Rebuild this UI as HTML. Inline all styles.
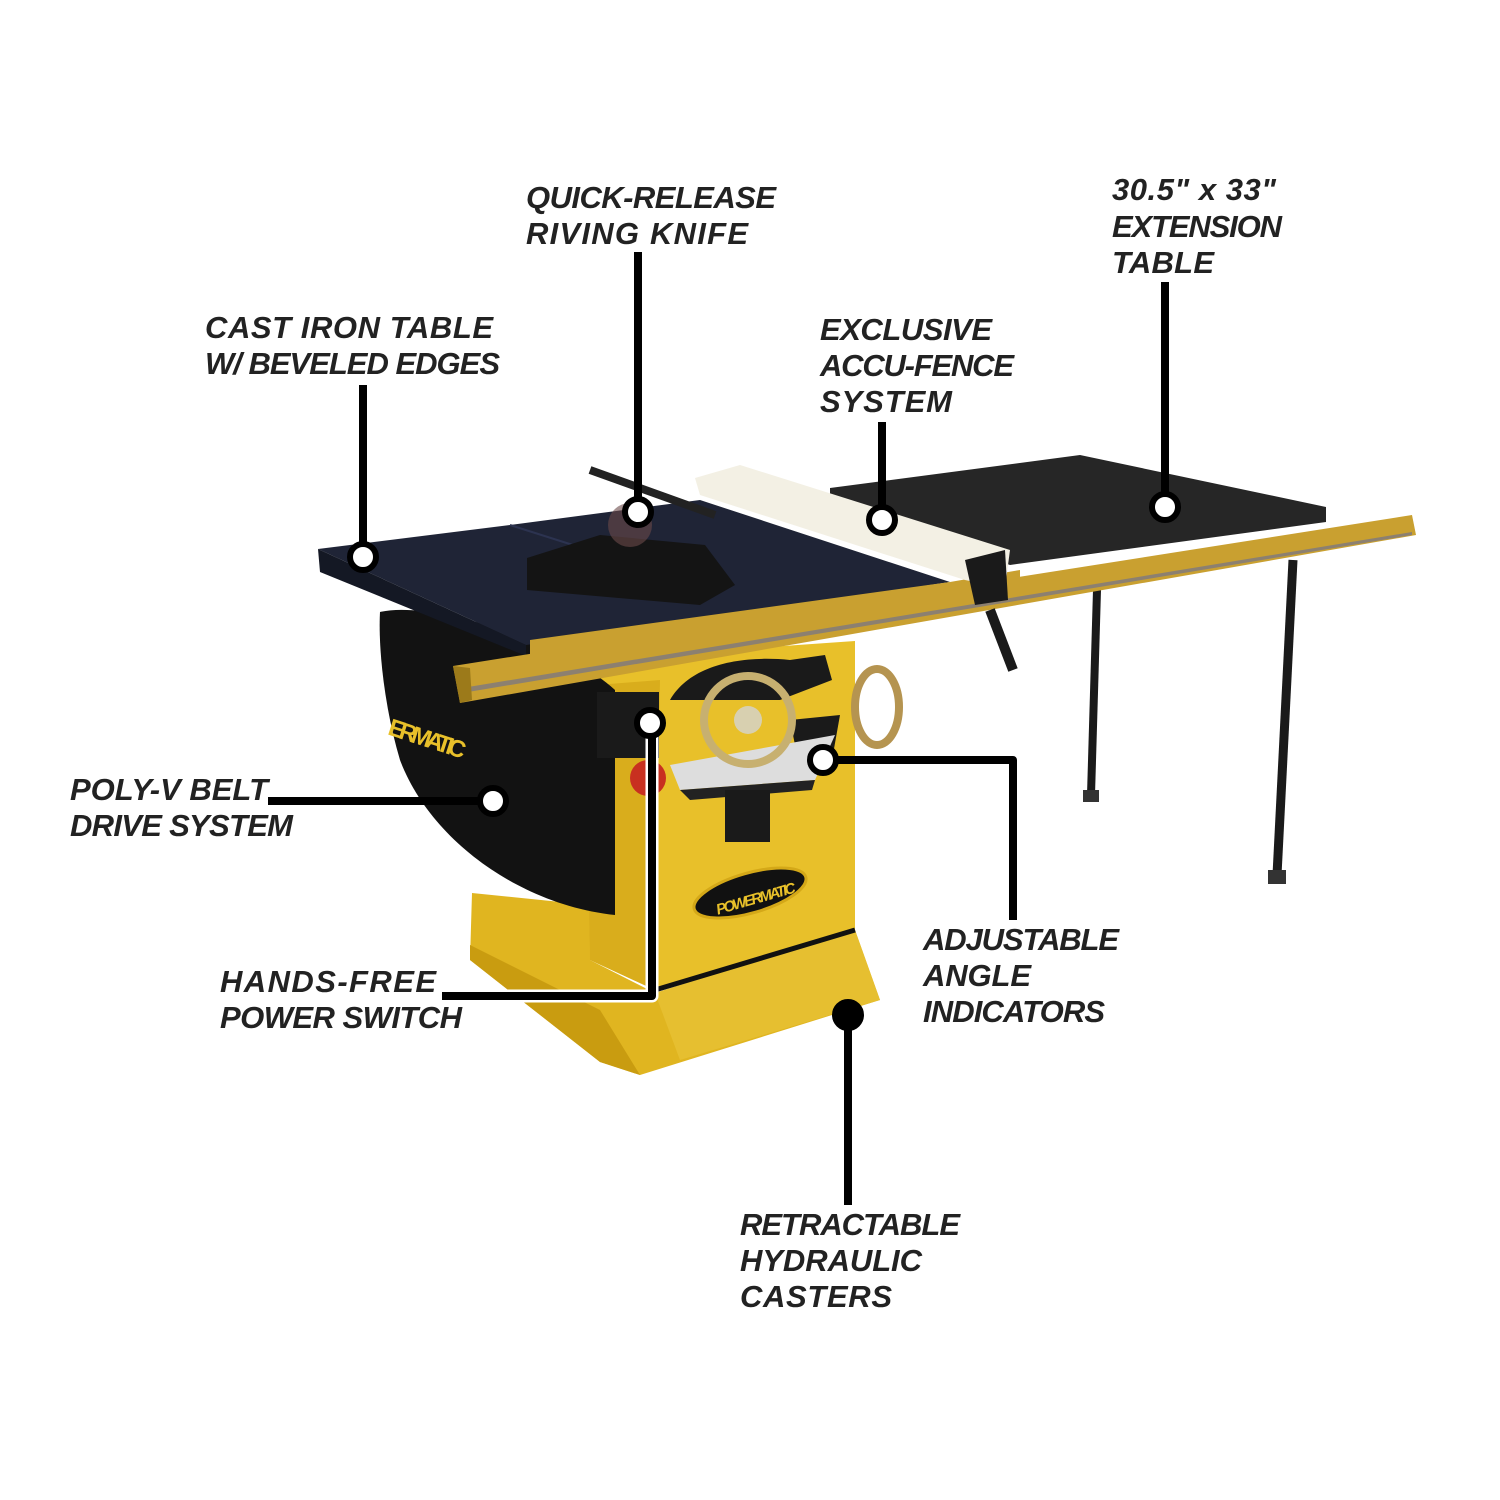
<!DOCTYPE html>
<html><head><meta charset="utf-8"><style>
html,body{margin:0;padding:0;background:#fff}
svg{display:block}
text{font-family:"Liberation Sans",sans-serif;font-weight:bold;font-style:italic;font-size:31px;fill:#222}
</style></head><body>
<svg width="1500" height="1500" viewBox="0 0 1500 1500">
<line x1="1097" y1="590" x2="1091" y2="795" stroke="#1a1a1a" stroke-width="8"/>
<rect x="1083" y="790" width="16" height="12" fill="#333"/>
<line x1="1293" y1="560" x2="1277" y2="875" stroke="#1a1a1a" stroke-width="9"/>
<rect x="1268" y="870" width="18" height="14" fill="#333"/>
<polygon points="830,488 1080,455 1326,507 1326,522 1010,565 830,500" fill="#262626"/>
<polygon points="472,893 590,905 590,960 655,993 855,930 880,1000 640,1075 600,1062 470,960" fill="#e0b520"/>
<polygon points="470,945 600,1010 640,1075 600,1062 470,960" fill="#c99c10"/>
<polygon points="655,993 855,930 880,1000 680,1060" fill="#e6bf30"/>
<polygon points="584,660 855,641 855,930 655,990 590,960" fill="#e8c02a"/>
<polygon points="584,686 660,680 655,990 590,960" fill="#d9ad1c"/>
<line x1="655" y1="990" x2="855" y2="930" stroke="#111" stroke-width="5"/>
<path d="M380,612 C430,600 560,640 615,690 L615,915 C520,905 430,840 400,760 C385,710 378,650 380,612 Z" fill="#121212"/>
<text x="385" y="745" transform="rotate(18 420 745)" style="font-size:24px;fill:#e8c02a;font-style:normal" textLength="80">ERMATIC</text>
<path d="M670,700 C690,665 740,655 790,660 L825,655 L832,680 L780,700 Z" fill="#1a1a1a"/>
<path d="M790,720 L840,715 L832,760 L800,770 Z" fill="#1a1a1a"/>
<rect x="597" y="692" width="62" height="66" fill="#1a1a1a"/>
<circle cx="648" cy="778" r="18" fill="#c83020"/>
<path d="M670,765 L835,735 L815,780 L680,790 Z" fill="#ddd"/>
<path d="M680,790 L815,780 L812,790 L690,800 Z" fill="#222"/>
<circle cx="748" cy="720" r="44" fill="none" stroke="#c7b070" stroke-width="8"/>
<circle cx="748" cy="720" r="14" fill="#d8d0b0"/>
<ellipse cx="877" cy="707" rx="22" ry="38" fill="none" stroke="#b59450" stroke-width="8"/>
<rect x="725" y="790" width="45" height="52" fill="#1a1a1a"/>
<ellipse cx="750" cy="893" rx="58" ry="20" transform="rotate(-16 750 893)" fill="#111" stroke="#d4a818" stroke-width="3"/>
<text x="713" y="905" transform="rotate(-16 750 893)" style="font-size:15px;fill:#e8c02a" textLength="82">POWERMATIC</text>
<polygon points="318,549 510,525 700,500 950,582 526,645" fill="#1f2436"/>
<polygon points="318,549 526,645 526,656 320,572" fill="#141824"/>
<line x1="510" y1="525" x2="620" y2="560" stroke="#2c3350" stroke-width="2"/>
<polygon points="527,558 600,535 705,545 735,585 700,605 527,590" fill="#141414"/>
<circle cx="630" cy="525" r="22" fill="#6a4a4a" opacity="0.6"/>
<polygon points="530,640 950,582 1020,570 1020,582 530,660" fill="#c9a030"/>
<polygon points="453,666 1412,515 1416,535 460,703" fill="#c9a030"/>
<polygon points="462,688 1412,532 1412,535 462,693" fill="#8c8070"/>
<polygon points="453,666 470,668 472,700 460,703" fill="#9c7a1a"/>
<polygon points="695,478 740,465 1010,550 1005,588 965,580 700,495" fill="#f3f0e4"/>
<polygon points="965,560 1005,550 1008,600 975,605" fill="#1a1a1a"/>
<line x1="990" y1="610" x2="1013" y2="670" stroke="#1a1a1a" stroke-width="10"/>
<line x1="590" y1="470" x2="715" y2="515" stroke="#222" stroke-width="8"/>
<g stroke="#000" stroke-width="8" fill="none" stroke-linejoin="round">
<line x1="363" y1="385" x2="363" y2="555"/>
<line x1="638" y1="252" x2="638" y2="510"/>
<line x1="882" y1="422" x2="882" y2="518"/>
<line x1="1165" y1="282" x2="1165" y2="505"/>
<line x1="268" y1="801" x2="493" y2="801"/>
<polyline points="442,996 652,996 652,723" stroke="#fff" stroke-width="13"/>
<polyline points="442,996 652,996 652,723"/>
<polyline points="823,760 1013,760 1013,920"/>
<line x1="848" y1="1015" x2="848" y2="1205"/>
</g>
<g fill="#fff" stroke="#000" stroke-width="6">
<circle cx="363" cy="557" r="13"/>
<circle cx="638" cy="512" r="13"/>
<circle cx="882" cy="520" r="13"/>
<circle cx="1165" cy="507" r="13"/>
<circle cx="493" cy="801" r="13"/>
<circle cx="650" cy="723" r="13"/>
<circle cx="823" cy="760" r="13"/>
<circle cx="848" cy="1015" r="13" fill="#000"/>
</g>
<text x="526" y="208" textLength="250">QUICK-RELEASE</text>
<text x="526" y="244" textLength="222">RIVING KNIFE</text>
<text x="1112" y="200" textLength="164">30.5" x 33"</text>
<text x="1112" y="237" textLength="170">EXTENSION</text>
<text x="1112" y="273" textLength="102">TABLE</text>
<text x="205" y="338" textLength="288">CAST IRON TABLE</text>
<text x="205" y="374" textLength="295">W/ BEVELED EDGES</text>
<text x="820" y="340" textLength="172">EXCLUSIVE</text>
<text x="820" y="376" textLength="194">ACCU-FENCE</text>
<text x="820" y="412" textLength="132">SYSTEM</text>
<text x="70" y="800" textLength="198">POLY-V BELT</text>
<text x="70" y="836" textLength="223">DRIVE SYSTEM</text>
<text x="220" y="992" textLength="216">HANDS-FREE</text>
<text x="220" y="1028" textLength="242">POWER SWITCH</text>
<text x="923" y="950" textLength="196">ADJUSTABLE</text>
<text x="923" y="986" textLength="108">ANGLE</text>
<text x="923" y="1022" textLength="182">INDICATORS</text>
<text x="740" y="1235" textLength="220">RETRACTABLE</text>
<text x="740" y="1271" textLength="182">HYDRAULIC</text>
<text x="740" y="1307" textLength="152">CASTERS</text>
</svg>
</body></html>
